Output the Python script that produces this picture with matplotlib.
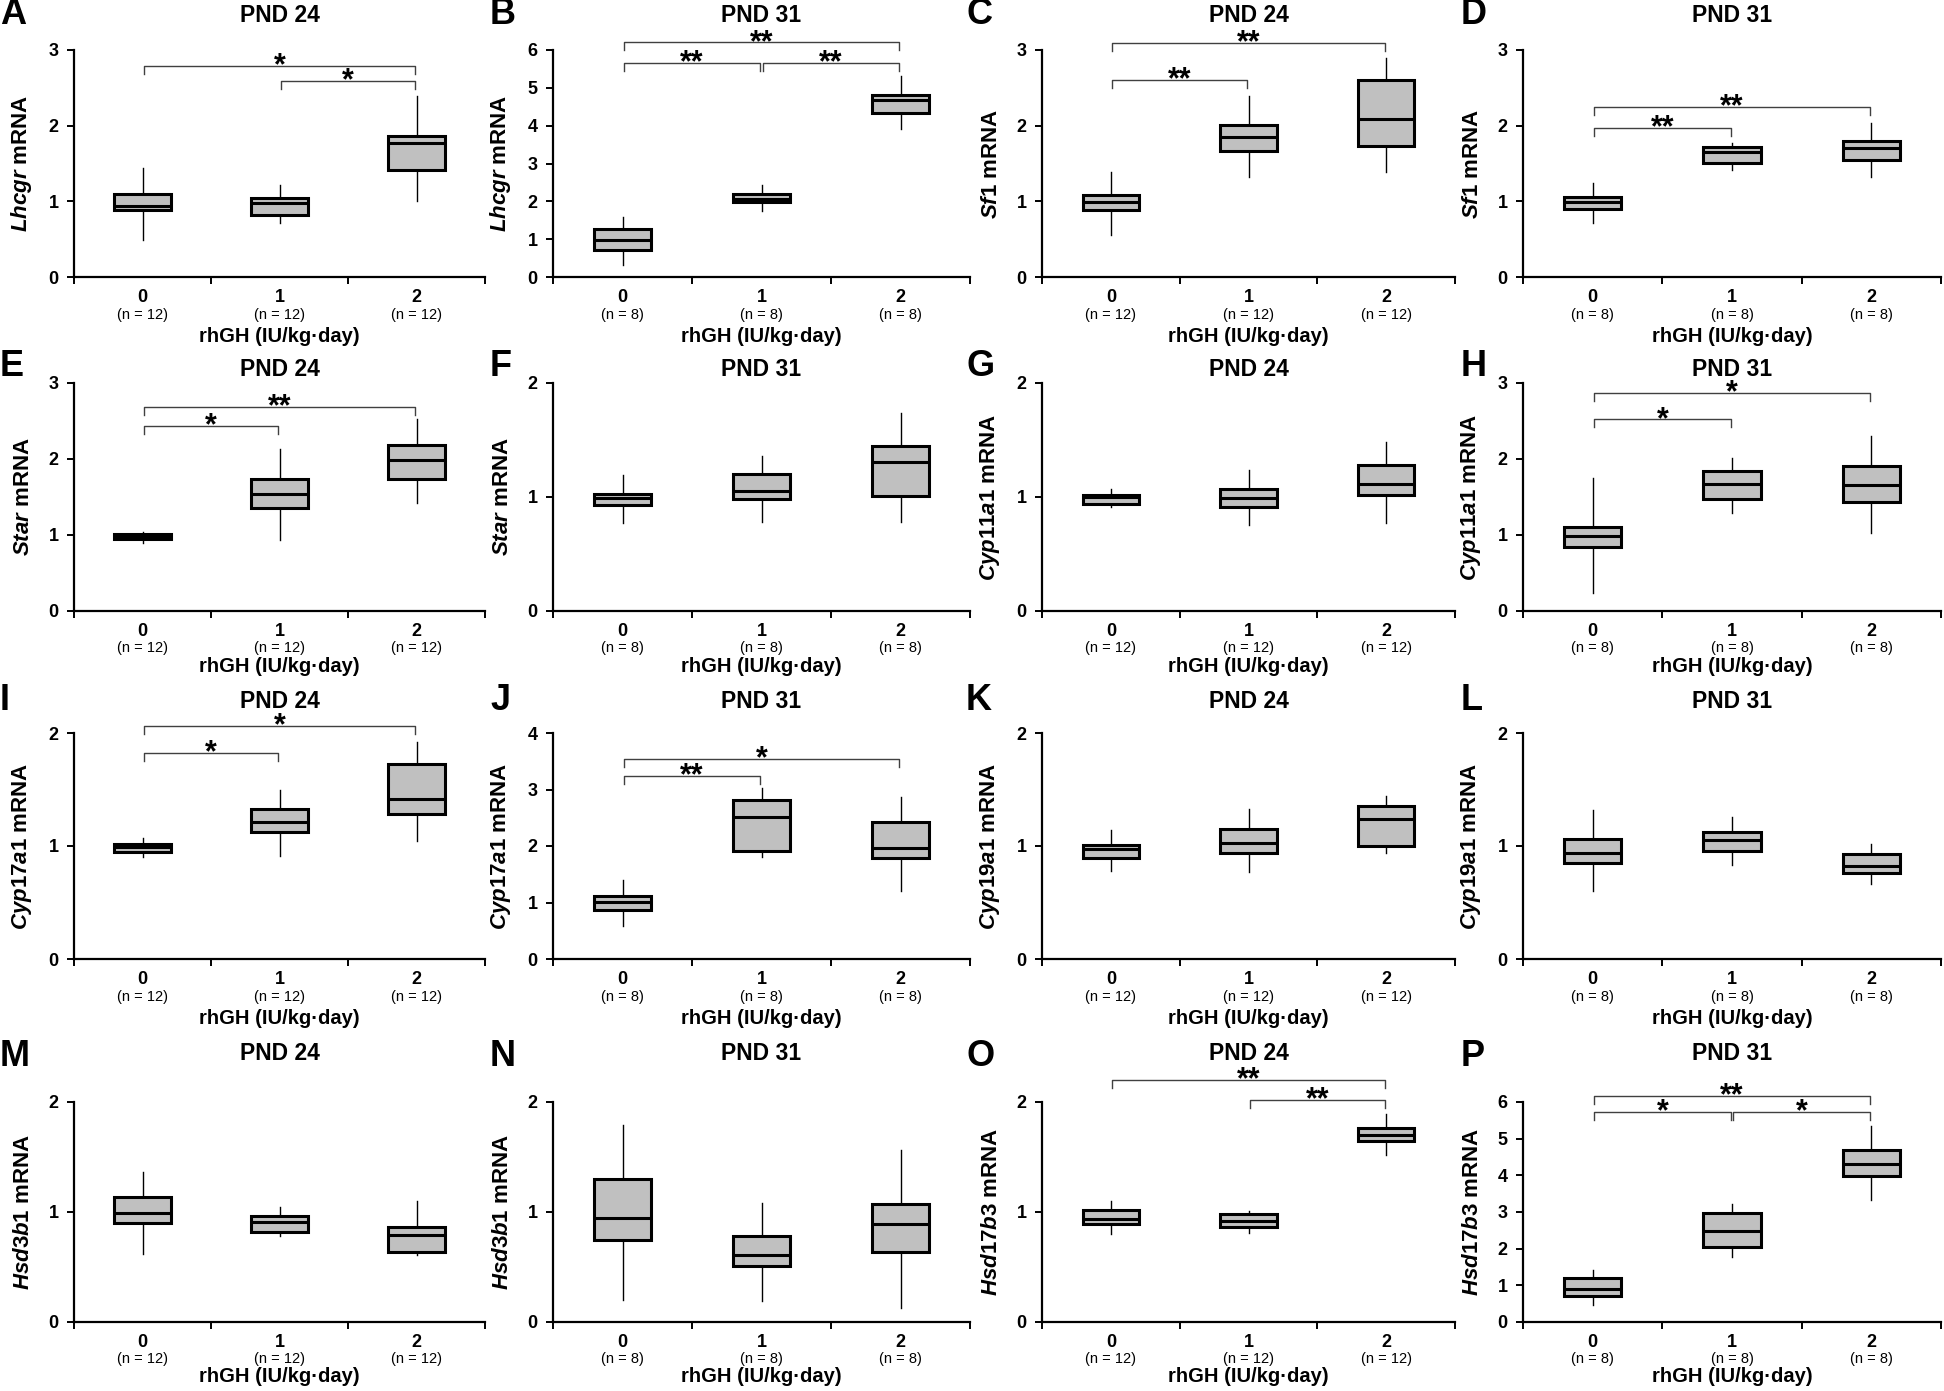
import matplotlib
matplotlib.use('Agg')
import matplotlib.pyplot as plt

plt.rcParams['font.family'] = ['Liberation Sans', 'DejaVu Sans']
plt.rcParams['mathtext.fontset'] = 'custom'
plt.rcParams['mathtext.it'] = 'Liberation Sans:italic:bold'
plt.rcParams['mathtext.rm'] = 'Liberation Sans:bold'

# panel data --------------------------------------------------------------
letters = list('ABCDEFGHIJKLMNOP')
genes = ['Lhcgr', 'Lhcgr', 'Sf1', 'Sf1', 'Star', 'Star', 'Cyp11a1', 'Cyp11a1',
         'Cyp17a1', 'Cyp17a1', 'Cyp19a1', 'Cyp19a1', 'Hsd3b1', 'Hsd3b1',
         'Hsd17b3', 'Hsd17b3']
ages = ['PND 24', 'PND 31'] * 8
n_animals = [12, 8] * 8
ymax = [3, 6, 3, 3, 3, 2, 2, 3, 2, 4, 2, 2, 2, 2, 2, 6]
doses = ['0', '1', '2']

# (whisker low, q1, median, q3, whisker high) for doses 0, 1, 2
box_A = [(0.49, 0.88, 0.94, 1.10, 1.44), (0.72, 0.82, 0.98, 1.05, 1.21), (1.00, 1.42, 1.77, 1.86, 2.39)]
box_B = [(0.33, 0.72, 0.99, 1.26, 1.59), (1.75, 1.98, 2.07, 2.19, 2.44), (3.90, 4.34, 4.68, 4.82, 5.30)]
box_C = [(0.55, 0.89, 0.99, 1.08, 1.39), (1.32, 1.67, 1.85, 2.01, 2.39), (1.39, 1.73, 2.09, 2.60, 2.90)]
box_D = [(0.71, 0.90, 0.99, 1.06, 1.24), (1.42, 1.51, 1.65, 1.72, 1.77), (1.32, 1.55, 1.70, 1.80, 2.04)]
box_E = [(0.90, 0.95, 0.98, 1.01, 1.04), (0.93, 1.35, 1.54, 1.74, 2.13), (1.42, 1.74, 1.99, 2.18, 2.53)]
box_F = [(0.77, 0.93, 0.99, 1.03, 1.19), (0.78, 0.98, 1.05, 1.20, 1.36), (0.78, 1.01, 1.31, 1.45, 1.74)]
box_G = [(0.91, 0.94, 1.00, 1.02, 1.07), (0.75, 0.91, 0.99, 1.07, 1.24), (0.77, 1.02, 1.11, 1.28, 1.48)]
box_H = [(0.24, 0.84, 0.99, 1.10, 1.75), (1.29, 1.48, 1.67, 1.84, 2.01), (1.02, 1.44, 1.66, 1.91, 2.30)]
box_I = [(0.90, 0.95, 0.99, 1.02, 1.07), (0.91, 1.12, 1.21, 1.33, 1.50), (1.04, 1.28, 1.42, 1.73, 1.92)]
box_J = [(0.59, 0.86, 1.01, 1.11, 1.40), (1.80, 1.92, 2.51, 2.82, 3.02), (1.20, 1.79, 1.96, 2.42, 2.87)]
box_K = [(0.78, 0.89, 0.97, 1.01, 1.14), (0.77, 0.94, 1.03, 1.15, 1.33), (0.94, 1.00, 1.24, 1.35, 1.44)]
box_L = [(0.60, 0.85, 0.94, 1.06, 1.32), (0.83, 0.96, 1.05, 1.12, 1.26), (0.66, 0.76, 0.82, 0.93, 1.02)]
box_M = [(0.62, 0.90, 0.99, 1.14, 1.36), (0.78, 0.82, 0.91, 0.96, 1.05), (0.61, 0.64, 0.79, 0.86, 1.10)]
box_N = [(0.20, 0.75, 0.95, 1.30, 1.79), (0.19, 0.51, 0.61, 0.78, 1.08), (0.13, 0.64, 0.89, 1.07, 1.56)]
box_O = [(0.80, 0.89, 0.94, 1.02, 1.10), (0.81, 0.86, 0.92, 0.98, 1.01), (1.52, 1.65, 1.70, 1.76, 1.89)]
box_P = [(0.46, 0.70, 0.91, 1.20, 1.41), (1.78, 2.05, 2.47, 2.97, 3.22), (3.32, 3.99, 4.32, 4.68, 5.35)]
boxes = [box_A, box_B, box_C, box_D, box_E, box_F, box_G, box_H,
         box_I, box_J, box_K, box_L, box_M, box_N, box_O, box_P]

# significance brackets: (from dose, to dose, height, mark)
sig_A = [(0, 2, 2.79, '*'), (1, 2, 2.59, '*')]
sig_B = [(0, 2, 6.20, '**'), (0, 1, 5.65, '**'), (1, 2, 5.65, '**')]
sig_C = [(0, 2, 3.09, '**'), (0, 1, 2.60, '**')]
sig_D = [(0, 2, 2.25, '**'), (0, 1, 1.97, '**')]
sig_E = [(0, 2, 2.69, '**'), (0, 1, 2.43, '*')]
sig_H = [(0, 2, 2.87, '*'), (0, 1, 2.52, '*')]
sig_I = [(0, 2, 2.06, '*'), (0, 1, 1.82, '*')]
sig_J = [(0, 2, 3.54, '*'), (0, 1, 3.24, '**')]
sig_O = [(0, 2, 2.20, '**'), (1, 2, 2.02, '**')]
sig_P = [(0, 2, 6.17, '**'), (0, 1, 5.73, '*'), (1, 2, 5.73, '*')]
sigs = {'A': sig_A, 'B': sig_B, 'C': sig_C, 'D': sig_D, 'E': sig_E,
        'H': sig_H, 'I': sig_I, 'J': sig_J, 'O': sig_O, 'P': sig_P}

# layout (pixels) ---------------------------------------------------------
W, H = 1944, 1391
col_left = [74, 553, 1042, 1523]
col_right = [485, 970, 1455, 1941]
row_top = [50, 383, 733, 1102]
row_bottom = [277, 611, 959, 1322]
title_y = [15, 369, 702, 1053]
letter_y = [15, 366, 700, 1057]
letter_x = [0, 490, 966, 1461]
xlabel_gap = [59, 56, 59, 54]   # px from x axis to centre of "rhGH" label

fig = plt.figure(figsize=(W / 100, H / 100), dpi=100)

for k in range(16):
    r, c = divmod(k, 4)
    x0, x1 = col_left[c], col_right[c]
    y0, y1 = row_top[r], row_bottom[r]
    ax = fig.add_axes([x0 / W, 1 - y1 / H, (x1 - x0) / W, (y1 - y0) / H])

    stats = [dict(whislo=b[0], q1=b[1], med=b[2], q3=b[3], whishi=b[4], fliers=[])
             for b in boxes[k]]
    ax.bxp(stats, positions=[0, 1, 2], widths=0.41, showcaps=False,
           showfliers=False, patch_artist=True,
           boxprops=dict(facecolor='#c0c0c0', edgecolor='black', linewidth=2.2),
           medianprops=dict(color='black', linewidth=2.2, solid_capstyle='butt'),
           whiskerprops=dict(color='black', linewidth=1.0))

    ax.set_xlim(-0.5, 2.5)
    ax.set_ylim(0, ymax[k])
    ax.set_xticks([-0.5, 0.5, 1.5, 2.5])
    ax.set_xticklabels([])
    ax.set_yticks(range(ymax[k] + 1))
    ax.set_yticklabels([str(v) for v in range(ymax[k] + 1)],
                       fontsize=13, fontweight='bold')
    ax.tick_params(axis='both', direction='out', length=5, width=1.4, pad=6)
    for s in ['top', 'right']:
        ax.spines[s].set_visible(False)
    for s in ['left', 'bottom']:
        ax.spines[s].set_linewidth(1.6)

    for i, d in enumerate(doses):
        ax.annotate(d, xy=(i, 0), xycoords=('data', 'axes fraction'),
                    xytext=(0, -14.5), textcoords='offset points',
                    ha='center', va='center', fontsize=13, fontweight='bold',
                    annotation_clip=False)
        ax.annotate(f'(n = {n_animals[k]})', xy=(i, 0),
                    xycoords=('data', 'axes fraction'),
                    xytext=(0, -27), textcoords='offset points',
                    ha='center', va='center', fontsize=10.5,
                    annotation_clip=False)
    ax.annotate('rhGH (IU/kg·day)', xy=(0.5, 0), xycoords='axes fraction',
                xytext=(0, -xlabel_gap[r] * 0.72), textcoords='offset points',
                ha='center', va='center', fontsize=14.5, fontweight='bold',
                annotation_clip=False)

    ax.set_ylabel(r'$\mathit{%s}$ mRNA' % genes[k], fontsize=16, fontweight='bold')
    ax.yaxis.set_label_coords(-40 / (x1 - x0), 0.5)

    leg = 8.0 / (y1 - y0) * ymax[k]
    for a, b, h, mark in sigs.get(letters[k], []):
        xa, xb = a + 0.008, b - 0.008
        ax.plot([xa, xa, xb, xb], [h - leg, h, h, h - leg], color='#404040',
                lw=1.0, clip_on=False)
        ax.annotate(mark, xy=((a + b) / 2, h), xytext=(0, -6),
                    textcoords='offset points', ha='center', va='baseline',
                    fontsize=22, fontweight='bold', annotation_clip=False)

    fig.text((x0 + x1) / 2 / W, 1 - title_y[r] / H, ages[k], ha='center',
             va='center', fontsize=16.5, fontweight='bold')
    fig.text(letter_x[c] / W, 1 - letter_y[r] / H, letters[k], ha='left',
             va='center', fontsize=26, fontweight='bold')

fig.savefig('out.png', dpi=100)
